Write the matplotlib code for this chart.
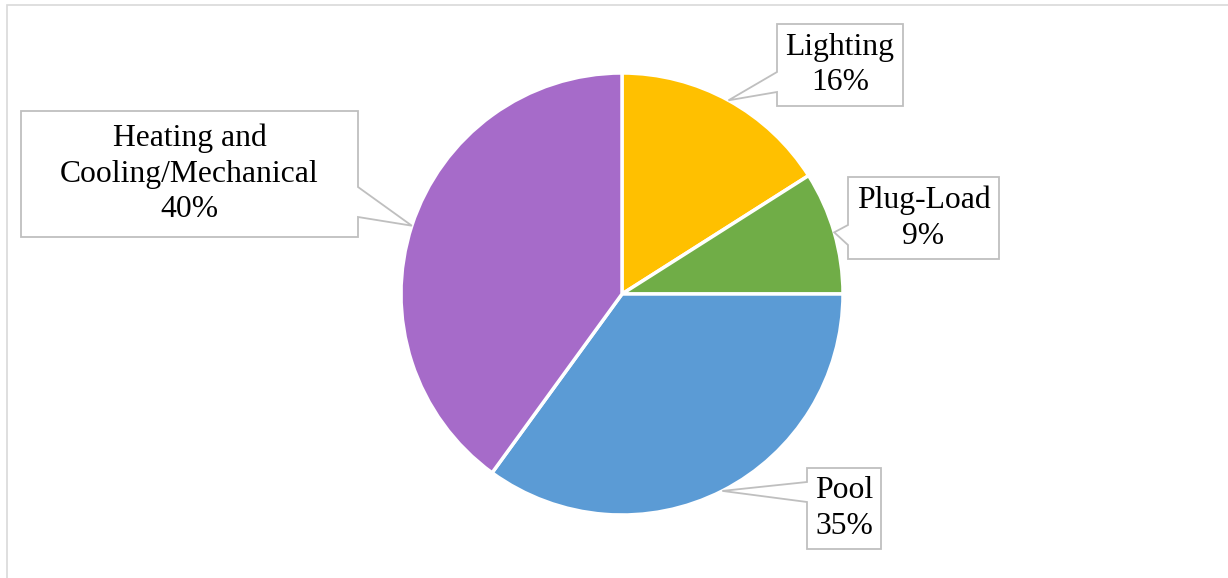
import numpy as np
import matplotlib
matplotlib.use("Agg")
import matplotlib.pyplot as plt
from matplotlib.patches import Polygon, Rectangle

# Energy use breakdown (%)
categories = ["Lighting", "Plug-Load", "Pool", "Heating and\nCooling/Mechanical"]
values = [16, 9, 35, 40]
colors = ["#FFC000", "#70AD47", "#5B9BD5", "#A66BC9"]

W, H = 1228, 578
CX, CY, R = 622, 294, 221  # pie centre / radius in pixels (y from top)

# label boxes: (left, top, right, bottom), pointer side, pointer base (y0, y1)
boxes = [
    ((777, 24, 903, 106), "left", (72, 92)),
    ((848, 177, 999, 259), "left", (225, 245)),
    ((807, 468, 881, 549), "left", (482, 502)),
    ((21, 111, 358, 237), "right", (187, 217)),
]

EDGE = "#BFBFBF"


def fy(y):
    # pixel row -> data y
    return H - y


fig = plt.figure(figsize=(W / 100, H / 100), dpi=100)
ax = fig.add_axes([0, 0, 1, 1])

wedges, _ = ax.pie(values, colors=colors, startangle=90, counterclock=False,
                   center=(CX, fy(CY)), radius=R,
                   wedgeprops=dict(edgecolor="white", linewidth=2.5))
ax.set_xlim(0, W)
ax.set_ylim(0, H)
ax.set_aspect("equal")
ax.axis("off")

# chart frame
ax.add_patch(Rectangle((7, -10), W + 20, fy(5) + 10, fill=False,
                       edgecolor="#D9D9D9", linewidth=1.2, zorder=0))

for w, name, val, (box, side, base) in zip(wedges, categories, values, boxes):
    mid = np.deg2rad((w.theta1 + w.theta2) / 2)
    tip = (CX + R * np.cos(mid), fy(CY) + R * np.sin(mid))
    x0, y0, x1, y1 = box
    b0, b1 = base
    if side == "left":
        pts = [(x0, y0), (x1, y0), (x1, y1), (x0, y1), (x0, b1), None, (x0, b0)]
    else:
        pts = [(x0, y0), (x1, y0), (x1, b0), None, (x1, b1), (x1, y1), (x0, y1)]
    verts = [tip if p is None else (p[0], fy(p[1])) for p in pts]
    ax.add_patch(Polygon(verts, closed=True, facecolor="white", edgecolor=EDGE,
                         linewidth=1.3, zorder=3))
    ax.text((x0 + x1) / 2, fy((y0 + y1) / 2), f"{name}\n{val}%",
            ha="center", va="center", family="Liberation Serif", fontsize=22.8,
            linespacing=1.3, color="black", zorder=4)

fig.savefig("out.png", dpi=100, facecolor="white")
